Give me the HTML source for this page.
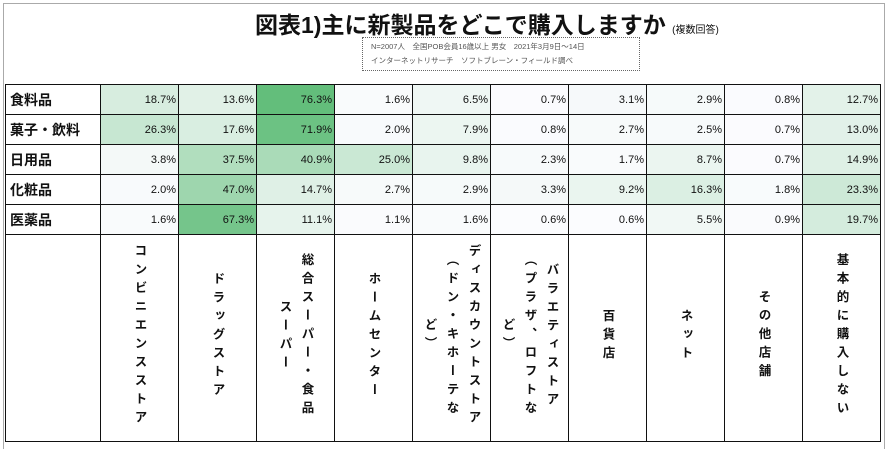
<!DOCTYPE html>
<html><head><meta charset="utf-8"><style>
body{margin:0;background:#fff;width:889px;height:451px;overflow:hidden;position:relative;font-family:"Liberation Sans","Noto Sans CJK JP",sans-serif;}
.frame{position:absolute;left:3px;top:3px;width:880px;height:445px;border:1px solid #aaa;border-bottom:none;}
.title{position:absolute;left:255px;top:6px;font-size:23px;font-weight:bold;color:#111;white-space:nowrap;}
.title small{font-size:10px;font-weight:normal;}
.note{position:absolute;left:362px;top:37px;width:278px;height:34px;border:1px dotted #666;font-size:7.5px;color:#555;line-height:14px;padding:2px 0 0 8px;box-sizing:border-box;white-space:nowrap;}
table{position:absolute;left:5px;top:84px;border-collapse:collapse;}
td{border:1.5px solid #111;padding:0 2px 0 0;font-size:11px;text-align:right;height:29px;color:#111;}
td.l{text-align:left;font-size:14px;font-weight:bold;padding-left:4px;width:88px;}
td.v{width:75px;}
tr.h td{height:206px;vertical-align:middle;text-align:center;padding:0;}
.vt{writing-mode:vertical-rl;font-size:12.5px;font-weight:bold;letter-spacing:6px;line-height:22px;display:inline-block;}
</style></head><body>
<div class="frame"></div>
<div class="title">図表1)主に新製品をどこで購入しますか <small>(複数回答)</small></div>
<div class="note">N=2007人　全国POB会員16歳以上 男女　2021年3月9日～14日<br>インターネットリサーチ　ソフトブレーン・フィールド調べ</div>
<table id="t"></table>
<script>
var rows=[["食料品",[18.7,13.6,76.3,1.6,6.5,0.7,3.1,2.9,0.8,12.7]],
["菓子・飲料",[26.3,17.6,71.9,2.0,7.9,0.8,2.7,2.5,0.7,13.0]],
["日用品",[3.8,37.5,40.9,25.0,9.8,2.3,1.7,8.7,0.7,14.9]],
["化粧品",[2.0,47.0,14.7,2.7,2.9,3.3,9.2,16.3,1.8,23.3]],
["医薬品",[1.6,67.3,11.1,1.1,1.6,0.6,0.6,5.5,0.9,19.7]]];
var h="";
rows.forEach(function(r){h+='<tr><td class="l">'+r[0]+'</td>';r[1].forEach(function(v){var f=v/76.3;var c='rgb('+Math.round(252-f*153)+','+Math.round(252-f*62)+','+Math.round(255-f*132)+')';h+='<td class="v" style="background:'+c+'">'+v.toFixed(1)+'%</td>';});h+='</tr>';});
var hd=["コンビニエンスストア","ドラッグストア","総合スーパー・食品<br>スーパー","ホームセンター","ディスカウントストア<br>（ドン・キホーテな<br>ど）","バラエティストア<br>（プラザ、ロフトな<br>ど）","百貨店","ネット","その他店舗","基本的に購入しない"];
h+='<tr class="h"><td class="l"></td>';hd.forEach(function(t){h+='<td><span class="vt">'+t+'</span></td>';});h+='</tr>';
document.getElementById("t").innerHTML=h;
</script>
</body></html>
